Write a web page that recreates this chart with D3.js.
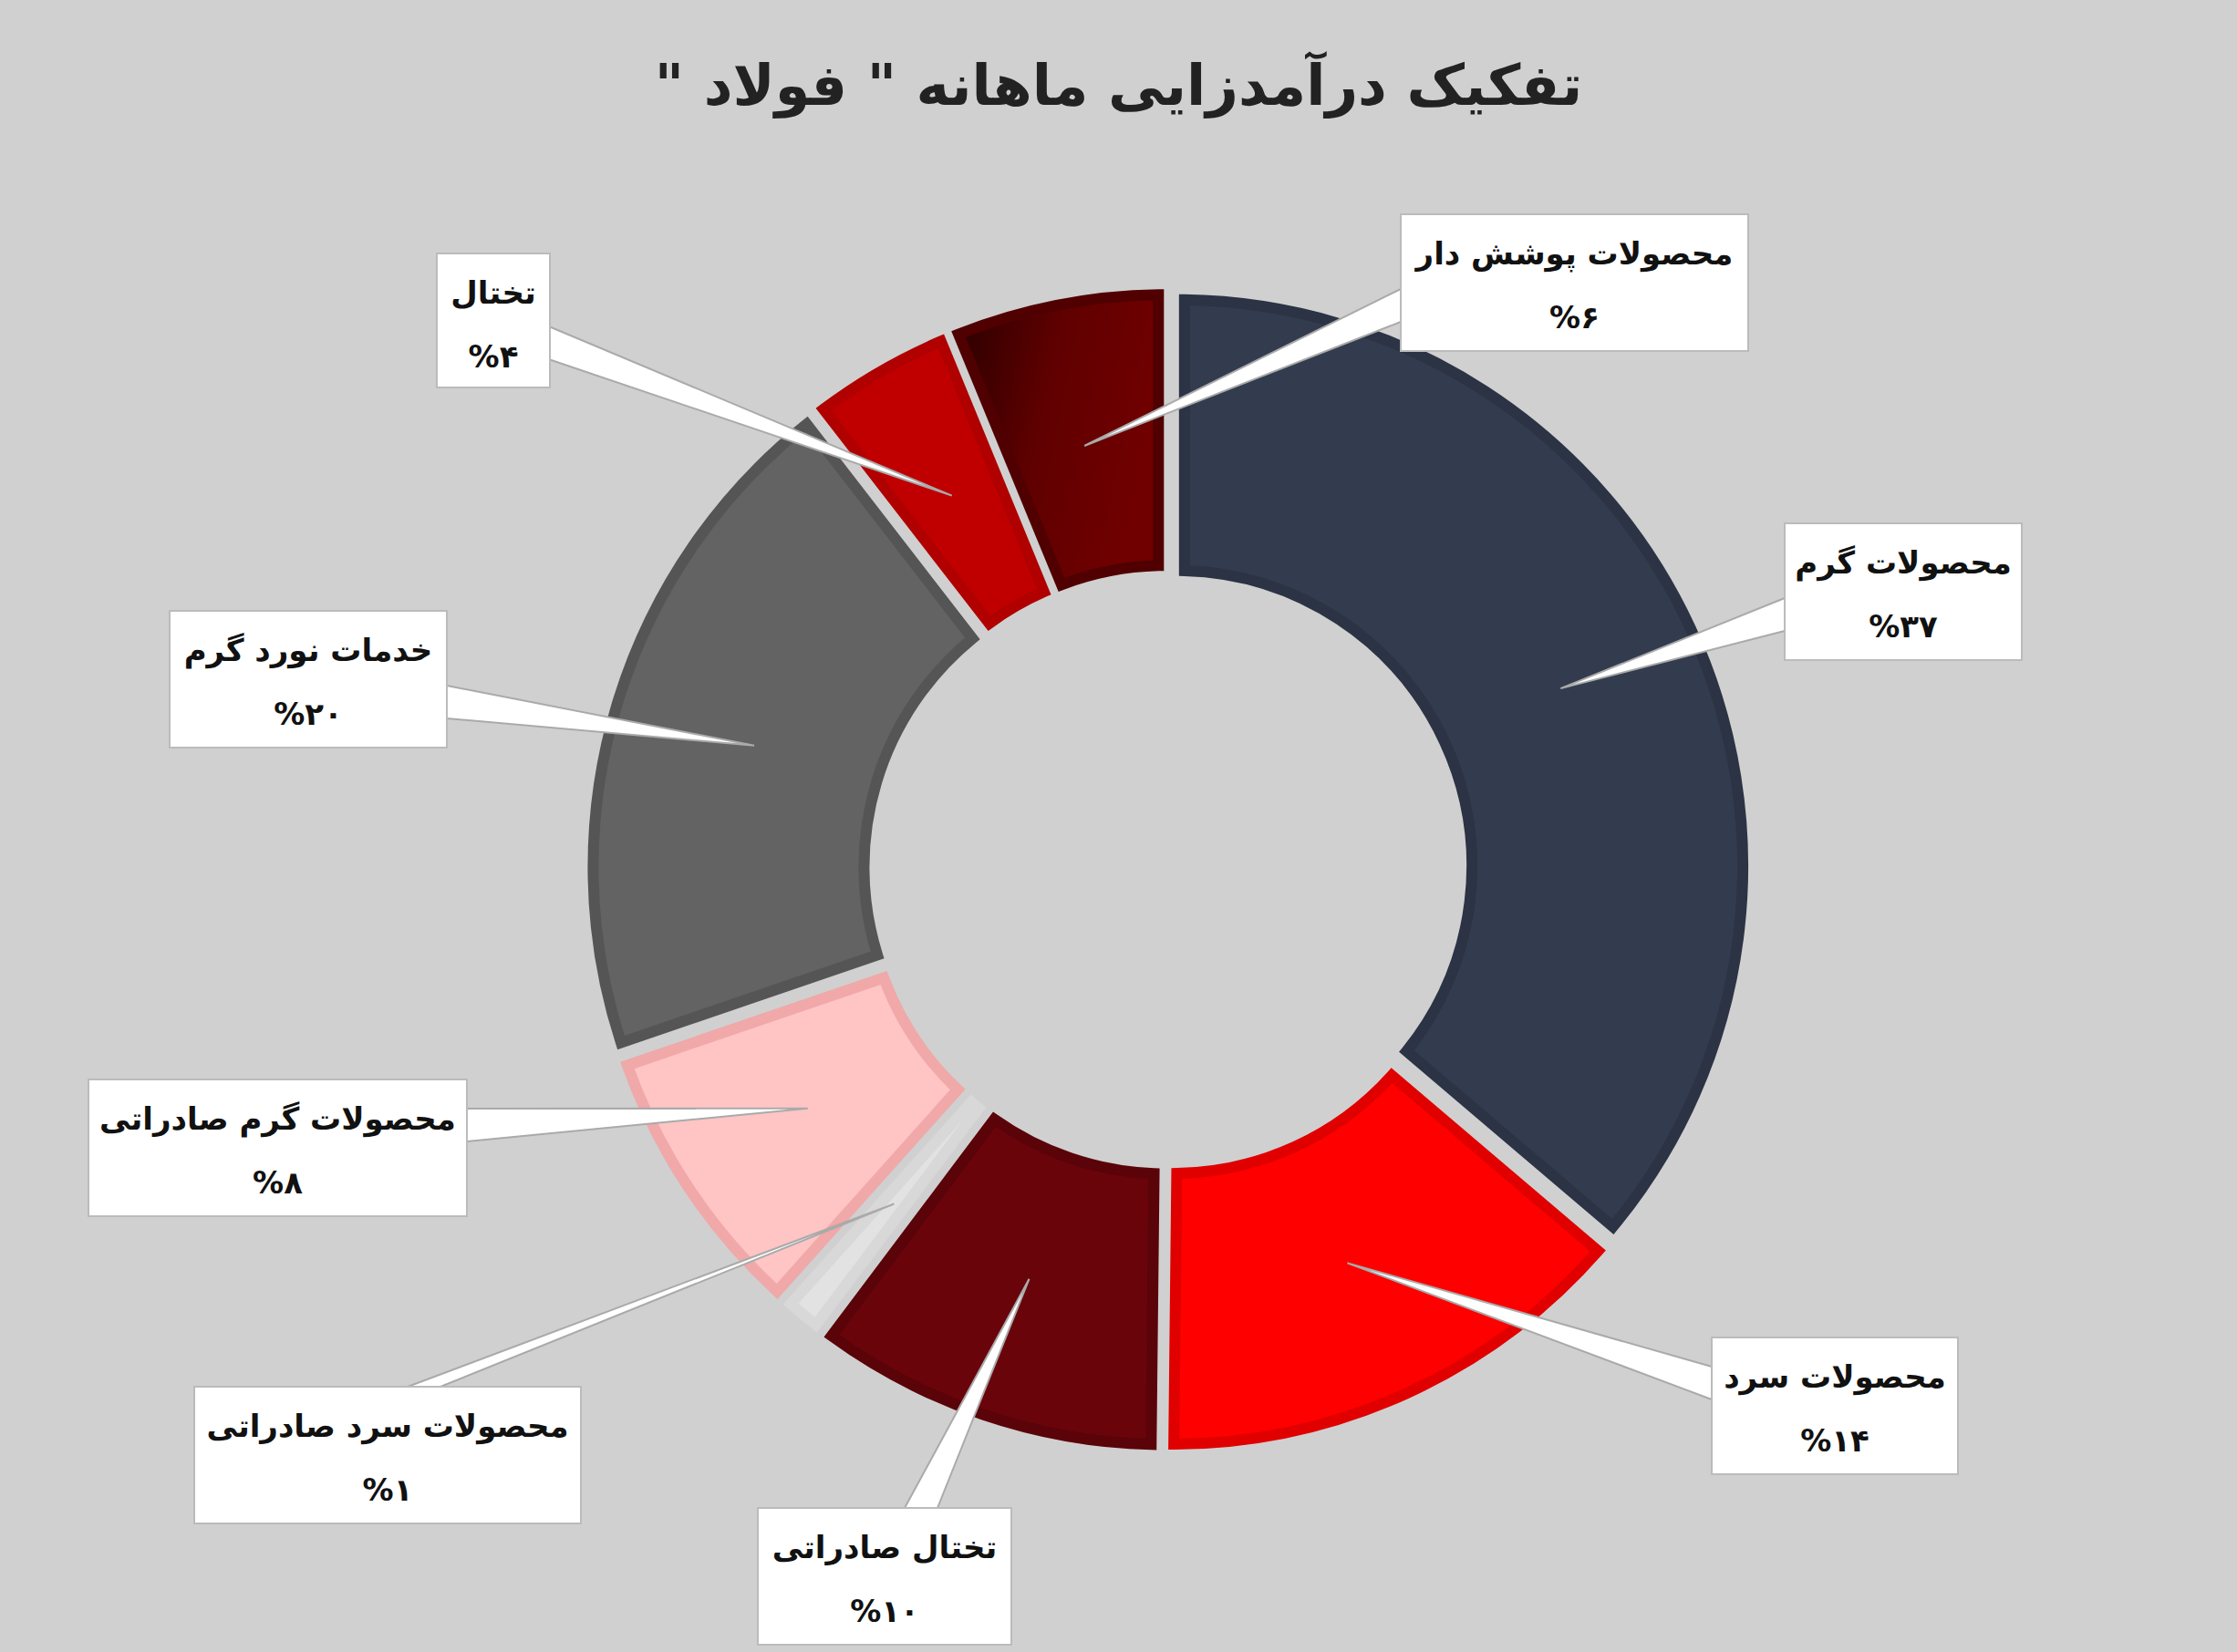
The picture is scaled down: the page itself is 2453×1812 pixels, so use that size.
<!DOCTYPE html>
<html><head><meta charset="utf-8">
<script src="https://cdn.jsdelivr.net/npm/d3@7"></script>
<style>body{margin:0;background:#d0d0d0}svg{display:block}</style>
</head><body>
<svg id="chart" width="2453" height="1812"></svg>
<script>
const categories = ["محصولات گرم","محصولات سرد","تختال صادراتی","محصولات سرد صادراتی","محصولات گرم صادراتی","خدمات نورد گرم","تختال","محصولات پوشش دار"];
const values = [37, 14, 10, 1, 8, 20, 4, 6];
const pctLabels = ["%۳۷","%۱۴","%۱۰","%۱","%۸","%۲۰","%۴","%۶"];
const fills = ["#323c4e","#ff0000","#6a040b","#e2e2e2","url(#pink)","#636363","#c00000","url(#maroon)"];
const strokes = ["#2b3344","#e00000","#5a0309","#d8d8d8","#f0a8a8","#555555","#b00000","#500000"];
// label box top-left corners and sizes (in px)
const boxes = [[1957,574,260,150],[1877,1467,270,150],[831,1654,278,150],[213,1521,424,150],[97,1184,415,150],[186,670,304,150],[479,278,124,147],[1536,235,381,150]];

const width = 2453, height = 1812;
const cx = 1281, cy = 954, rOut = 621, rIn = 324;
const svg = d3.select("#chart");
svg.append("rect").attr("width", width).attr("height", height).attr("fill", "#d0d0d0");

const defs = svg.append("defs");
const pink = defs.append("radialGradient").attr("id", "pink").attr("gradientUnits", "userSpaceOnUse")
  .attr("cx", cx - 380).attr("cy", cy + 300).attr("r", 230);
pink.append("stop").attr("offset", "0").attr("stop-color", "#ff8a8a");
pink.append("stop").attr("offset", "1").attr("stop-color", "#ffc4c4");
const maroon = defs.append("linearGradient").attr("id", "maroon").attr("x1", "0").attr("x2", "1").attr("y1", "0").attr("y2", "0.3");
maroon.append("stop").attr("offset", "0").attr("stop-color", "#2a0000");
maroon.append("stop").attr("offset", "0.5").attr("stop-color", "#600000");
maroon.append("stop").attr("offset", "1").attr("stop-color", "#700000");

svg.append("text").attr("x", width / 2).attr("y", 115).attr("text-anchor", "middle")
  .attr("direction", "rtl").attr("font-family", "DejaVu Sans").attr("font-weight", "bold")
  .attr("font-size", 62).attr("fill", "#222").text("تفکیک درآمدزایی ماهانه \" فولاد \"");

const data = categories.map((c, i) => ({ c, v: values[i], p: pctLabels[i], i }));
const pie = d3.pie().value(d => d.v).sort(null).padAngle(0.025);
const arc = d3.arc().innerRadius(rIn).outerRadius(rOut);
const tipArc = d3.arc().innerRadius(rIn + 150).outerRadius(rIn + 150);
const arcs = pie(data);
const g = svg.append("g").attr("transform", `translate(${cx},${cy})`);

g.selectAll("path").data(arcs).enter().append("path")
  .attr("transform", d => {
    const a = (d.startAngle + d.endAngle) / 2;
    return `translate(${Math.sin(a) * 10},${-Math.cos(a) * 10})`;
  })
  .attr("d", arc)
  .attr("fill", d => fills[d.index])
  .attr("stroke", d => strokes[d.index])
  .attr("stroke-width", 12).attr("stroke-linejoin", "miter");

// callouts
const lab = svg.append("g");
arcs.forEach((d, i) => {
  const [tx0, ty0] = tipArc.centroid(d);
  const tx = tx0 + cx, ty = ty0 + cy;
  const [bx, by, bw, bh] = boxes[i];
  const mx = bx + bw / 2, my = by + bh / 2;
  // base point on the box edge facing the tip
  let px, py, ex, ey;
  if (Math.abs(tx - mx) / bw > Math.abs(ty - my) / bh) {
    px = tx > mx ? bx + bw : bx; py = my + (ty > my ? 25 : -25); ex = 0; ey = 18;
  } else {
    py = ty > my ? by + bh : by; px = mx + (tx > mx ? 40 : -40); ex = 18; ey = 0;
  }
  lab.append("path")
    .attr("d", `M${px - ex},${py - ey}L${tx},${ty}L${px + ex},${py + ey}`)
    .attr("fill", "#fff").attr("stroke", "#aaa").attr("stroke-width", 2);
  lab.append("rect").attr("x", bx).attr("y", by).attr("width", bw).attr("height", bh)
    .attr("fill", "#fff").attr("stroke", "#bbb").attr("stroke-width", 2);
  lab.append("text").attr("x", mx).attr("y", by + 55).attr("text-anchor", "middle")
    .attr("direction", "rtl").attr("font-family", "DejaVu Sans").attr("font-weight", "bold")
    .attr("font-size", 34).attr("fill", "#111").text(d.data.c);
  lab.append("text").attr("x", mx).attr("y", by + 125).attr("text-anchor", "middle")
    .attr("font-family", "DejaVu Sans").attr("font-weight", "bold")
    .attr("font-size", 34).attr("fill", "#111").text(d.data.p);
});
</script>
</body></html>
